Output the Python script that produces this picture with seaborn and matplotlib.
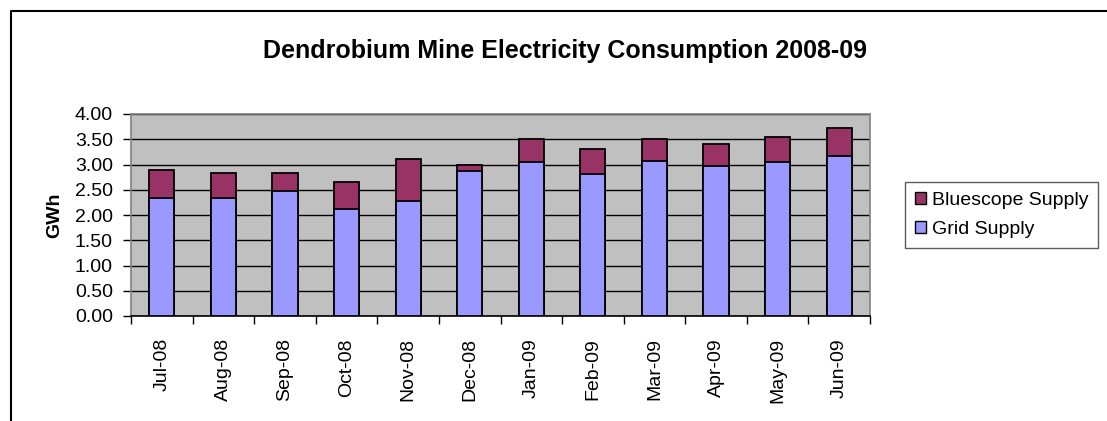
import matplotlib
matplotlib.use("Agg")
import matplotlib.pyplot as plt
from matplotlib.patches import Patch
from matplotlib.lines import Line2D
import seaborn as sns
import pandas as pd
import numpy as np

months = ["Jul-08", "Aug-08", "Sep-08", "Oct-08", "Nov-08", "Dec-08",
          "Jan-09", "Feb-09", "Mar-09", "Apr-09", "May-09", "Jun-09"]
grid_supply = [2.34, 2.34, 2.47, 2.12, 2.28, 2.88, 3.04, 2.81, 3.07, 2.97, 3.04, 3.16]
bluescope_supply = [0.56, 0.50, 0.37, 0.53, 0.83, 0.12, 0.47, 0.50, 0.44, 0.44, 0.50, 0.56]
yticks = [0.0, 0.5, 1.0, 1.5, 2.0, 2.5, 3.0, 3.5, 4.0]

sns.set_theme(style="white")
plt.rcParams["font.family"] = ["Liberation Sans", "DejaVu Sans"]
plt.rcParams["text.color"] = "black"
plt.rcParams["axes.labelcolor"] = "black"
plt.rcParams["xtick.color"] = "black"
plt.rcParams["ytick.color"] = "black"

df = pd.DataFrame({"month": months, "grid": grid_supply, "blue": bluescope_supply})
df["total"] = df["grid"] + df["blue"]

W, H = 1107, 421
fig = plt.figure(figsize=(W / 100, H / 100), dpi=100)
ax = fig.add_axes([131 / W, (H - 316) / H, (870 - 131) / W, (316 - 114) / H])
ax.set_facecolor("#C0C0C0")

blue_col = "#993366"
grid_col = "#9999FF"
sns.barplot(data=df, x="month", y="total", color=blue_col, width=0.41,
            edgecolor="black", linewidth=1.3, saturation=1, ax=ax, zorder=3)
sns.barplot(data=df, x="month", y="grid", color=grid_col, width=0.41,
            edgecolor="black", linewidth=1.3, saturation=1, ax=ax, zorder=4)

ax.set_ylim(0, 4.0)
ax.set_xlim(-0.5, len(months) - 0.5)
ax.set_yticks(yticks)
ax.set_yticklabels([f"{v:.2f}" for v in yticks], fontsize=14)
ax.yaxis.grid(True, color="black", linewidth=1.0, zorder=1)
ax.set_axisbelow(True)

ax.set_xticks(range(len(months)))
ax.set_xticklabels(months, rotation=90, fontsize=14)
ax.tick_params(axis="x", which="major", length=0, pad=16)
ax.set_xticks(np.arange(-0.5, len(months), 1.0), minor=True)
ax.tick_params(axis="x", which="minor", length=6, width=1, color="black", direction="out", bottom=True)
ax.tick_params(axis="y", length=6, width=1, color="black", direction="out", left=True, pad=7)

ax.set_xlabel("")
ax.set_ylabel("GWh", fontsize=14, fontweight="bold", labelpad=8, color="black")

for s in ["top", "right", "left"]:
    ax.spines[s].set_color("#808080")
    ax.spines[s].set_linewidth(1.2)
    ax.spines[s].set_visible(True)
ax.spines["bottom"].set_color("black")
ax.spines["bottom"].set_linewidth(1.2)

fig.text(565 / W, 1 - 51 / H, "Dendrobium Mine Electricity Consumption 2008-09",
         ha="center", va="center", fontsize=18, fontweight="bold", color="black")

handles = [Patch(facecolor=blue_col, edgecolor="black", linewidth=1.0),
           Patch(facecolor=grid_col, edgecolor="black", linewidth=1.0)]
leg = fig.legend(handles, ["Bluescope Supply", "Grid Supply"],
                 loc="center left", bbox_to_anchor=(905 / W, 1 - 215 / H),
                 fontsize=14, frameon=True, fancybox=False,
                 handlelength=0.6, handleheight=0.6, handletextpad=0.3,
                 borderpad=0.5, labelspacing=0.6, borderaxespad=0)
leg.get_frame().set_edgecolor("#333333")
leg.get_frame().set_linewidth(1.0)
for t in leg.get_texts():
    t.set_color("black")

fig.add_artist(Line2D([11 / W, 11 / W, 1.0], [0.0, 1 - 11 / H, 1 - 11 / H],
                      transform=fig.transFigure, color="black", linewidth=1.5))

fig.savefig("out.png", dpi=100)
